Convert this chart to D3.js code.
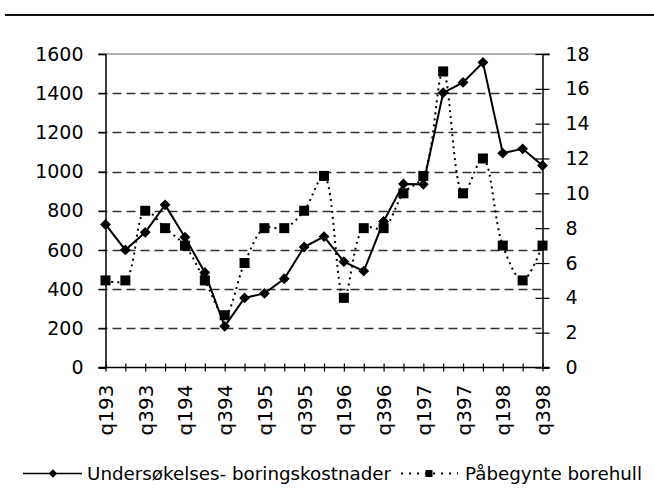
<!DOCTYPE html>
<html>
<head>
<meta charset="utf-8">
<script src="https://cdn.jsdelivr.net/npm/d3@7/dist/d3.min.js"></script>
<style>
  html, body { margin: 0; padding: 0; background: #fff; }
  svg { display: block; font-family: "DejaVu Sans", sans-serif; }
</style>
</head>
<body>
<svg id="chart" width="654" height="497"></svg>
<script>
const quarters = ['q193','q293','q393','q493','q194','q294','q394','q494','q195','q295','q395','q495',
  'q196','q296','q396','q496','q197','q297','q397','q497','q198','q298','q398'];
const tickLabels = ['q193','q393','q194','q394','q195','q395','q196','q396','q197','q397','q198','q398'];
// Undersøkelses- boringskostnader (left axis)
const kostnader = [730, 600, 690, 830, 665, 485, 210, 355, 378, 453, 615, 668,
  540, 492, 745, 937, 935, 1402, 1455, 1557, 1094, 1116, 1031];
// Påbegynte borehull (right axis)
const borehull = [5, 5, 9, 8, 7, 5, 3, 6, 8, 8, 9, 11, 4, 8, 8, 10, 11, 17, 10, 12, 7, 5, 7];
const leftTicks = [0, 200, 400, 600, 800, 1000, 1200, 1400, 1600];
const rightTicks = [0, 2, 4, 6, 8, 10, 12, 14, 16, 18];
const legendNames = ['Undersøkelses- boringskostnader', 'Påbegynte borehull'];

const svg = d3.select('#chart');
const pLeft = 105.5, pRight = 542.5, pTop = 54, pBottom = 367.5;

const x = d3.scalePoint().domain(quarters).range([pLeft, pRight]);
const yL = d3.scaleLinear().domain([0, 1600]).range([pBottom, pTop]);
const yR = d3.scaleLinear().domain([0, 18]).range([pBottom, pTop]);

// top rule of the page
svg.append('line')
  .attr('x1', 5).attr('x2', 654).attr('y1', 15).attr('y2', 15)
  .attr('stroke', '#111').attr('stroke-width', 2);

// gridlines
svg.append('g').selectAll('line')
  .data(leftTicks.filter(d => d > 0 && d < 1600))
  .enter().append('line')
  .attr('x1', pLeft - 7).attr('x2', pRight)
  .attr('y1', d => Math.round(yL(d)) + 0.5).attr('y2', d => Math.round(yL(d)) + 0.5)
  .attr('stroke', '#333').attr('stroke-width', 1.5)
  .attr('stroke-dasharray', '9,5');

// plot border top
svg.append('line')
  .attr('x1', pLeft - 7).attr('x2', pRight + 7).attr('y1', pTop).attr('y2', pTop)
  .attr('stroke', '#666').attr('stroke-width', 1.2);

// left axis
const gL = svg.append('g')
  .attr('transform', `translate(${pLeft},0)`)
  .call(d3.axisLeft(yL).tickValues(leftTicks).tickFormat(d3.format('d')).tickSize(7).tickPadding(15));
// right axis
const gR = svg.append('g')
  .attr('transform', `translate(${pRight},0)`)
  .call(d3.axisRight(yR).tickValues(rightTicks).tickFormat(d3.format('d')).tickSize(7).tickPadding(16));
gR.selectAll('.tick line').attr('x1', -7);
// bottom axis
const gB = svg.append('g')
  .attr('transform', `translate(0,${pBottom})`)
  .call(d3.axisBottom(x).tickSize(4).tickFormat(d => tickLabels.includes(d) ? d : ''));
gB.selectAll('.tick line').attr('y1', -4);
gB.select('.domain').attr('d', `M${pLeft - 7},0H${pRight + 7}`);

[gL, gR, gB].forEach(g => {
  g.select('.domain').attr('stroke', '#000').attr('stroke-width', 1.5);
  g.selectAll('.tick line').attr('stroke', '#000').attr('stroke-width', 1.2);
  g.selectAll('.tick text').attr('fill', '#000').style('font-size', '19px')
    .style('font-family', '"DejaVu Sans", sans-serif');
});
gB.selectAll('.tick text')
  .style('font-size', '20px')
  .attr('transform', 'rotate(-90)')
  .attr('text-anchor', 'end')
  .attr('x', -17).attr('y', 0).attr('dy', '0.35em');

// dotted series (right axis)
svg.append('path')
  .datum(borehull)
  .attr('fill', 'none').attr('stroke', '#000').attr('stroke-width', 2)
  .attr('stroke-dasharray', '2,4')
  .attr('d', d3.line().x((d, i) => x(quarters[i])).y(d => yR(d)).curve(d3.curveCatmullRom.alpha(0.5)));

// solid series (left axis)
svg.append('path')
  .datum(kostnader)
  .attr('fill', 'none').attr('stroke', '#000').attr('stroke-width', 2)
  .attr('d', d3.line().x((d, i) => x(quarters[i])).y(d => yL(d)));

svg.append('g').selectAll('rect')
  .data(borehull)
  .enter().append('rect')
  .attr('x', (d, i) => x(quarters[i]) - 5).attr('y', d => yR(d) - 5)
  .attr('width', 10).attr('height', 10).attr('fill', '#000');

const diamond = d3.symbol().type(d3.symbolDiamond2).size(75);
svg.append('g').selectAll('path')
  .data(kostnader)
  .enter().append('path')
  .attr('d', diamond)
  .attr('transform', (d, i) => `translate(${x(quarters[i])},${yL(d)})`)
  .attr('fill', '#000');

// legend
const ly = 473.5;
const leg = svg.append('g');
leg.append('line').attr('x1', 23).attr('x2', 82).attr('y1', ly).attr('y2', ly)
  .attr('stroke', '#000').attr('stroke-width', 1.5);
leg.append('path').attr('d', d3.symbol().type(d3.symbolDiamond2).size(45))
  .attr('transform', `translate(53,${ly})`).attr('fill', '#000');
leg.append('text').attr('x', 87).attr('y', ly).attr('dy', '0.35em')
  .style('font-size', '18.3px').text(legendNames[0]);
leg.append('line').attr('x1', 401).attr('x2', 458).attr('y1', ly).attr('y2', ly)
  .attr('stroke', '#000').attr('stroke-width', 2).attr('stroke-dasharray', '2,6');
leg.append('rect').attr('x', 425.5).attr('y', ly - 3.5).attr('width', 7).attr('height', 7)
  .attr('fill', '#000');
leg.append('text').attr('x', 465).attr('y', ly).attr('dy', '0.35em')
  .style('font-size', '18.3px').text(legendNames[1]);
</script>
</body>
</html>
